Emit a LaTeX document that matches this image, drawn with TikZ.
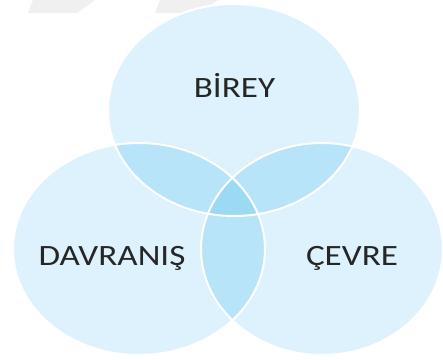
\documentclass[tikz,border=0pt]{standalone}
\usepackage{fontspec}
\setmainfont{Carlito}
\definecolor{basecol}{RGB}{221,242,252}
\definecolor{paircol}{RGB}{183,228,248}
\definecolor{triplecol}{RGB}{156,217,243}
\definecolor{markgray}{RGB}{240,240,240}
\tikzset{
  lbl/.style={anchor=base, inner sep=0pt, font=\fontsize{29.5}{30}\selectfont, text=black!85, xscale=1.19, transform shape},
  rim/.style={draw=white, line width=2pt}
}
\begin{document}
\begin{tikzpicture}[x=1pt,y=-1pt]
\useasboundingbox (0,0) rectangle (443,359);
\fill[white] (0,0) rectangle (443,359);
% faint marks top left
\fill[markgray] (33,0) -- (95,0) -- (77,13) -- (28,13) -- cycle;
\fill[markgray] (160,0) -- (218,0) -- (200,13) -- (155,13) -- cycle;
% base circles
\def\topE{(234,110) ellipse [x radius=126pt, y radius=106pt]}
\def\leftE{(139,249) ellipse [x radius=126pt, y radius=106pt]}
\def\rightE{(322,249) ellipse [x radius=121pt, y radius=106pt]}
\fill[basecol] \topE;
\fill[basecol] \leftE;
\fill[basecol] \rightE;
% pairwise overlaps
\begin{scope}
  \clip \topE;
  \fill[paircol] \leftE;
  \fill[paircol] \rightE;
\end{scope}
\begin{scope}
  \clip \leftE;
  \fill[paircol] \rightE;
\end{scope}
% triple overlap
\begin{scope}
  \clip \topE;
  \clip \leftE;
  \fill[triplecol] \rightE;
\end{scope}
% white rims
\draw[rim] \topE;
\draw[rim] \leftE;
\draw[rim] \rightE;
% labels
\node[lbl] (birey) at (234.5,97) {BİREY};
\node[lbl] (davranis) at (112,265) {DAVRANIŞ};
\node[lbl] (cevre) at (352,265) {ÇEVRE};
\end{tikzpicture}
\end{document}
